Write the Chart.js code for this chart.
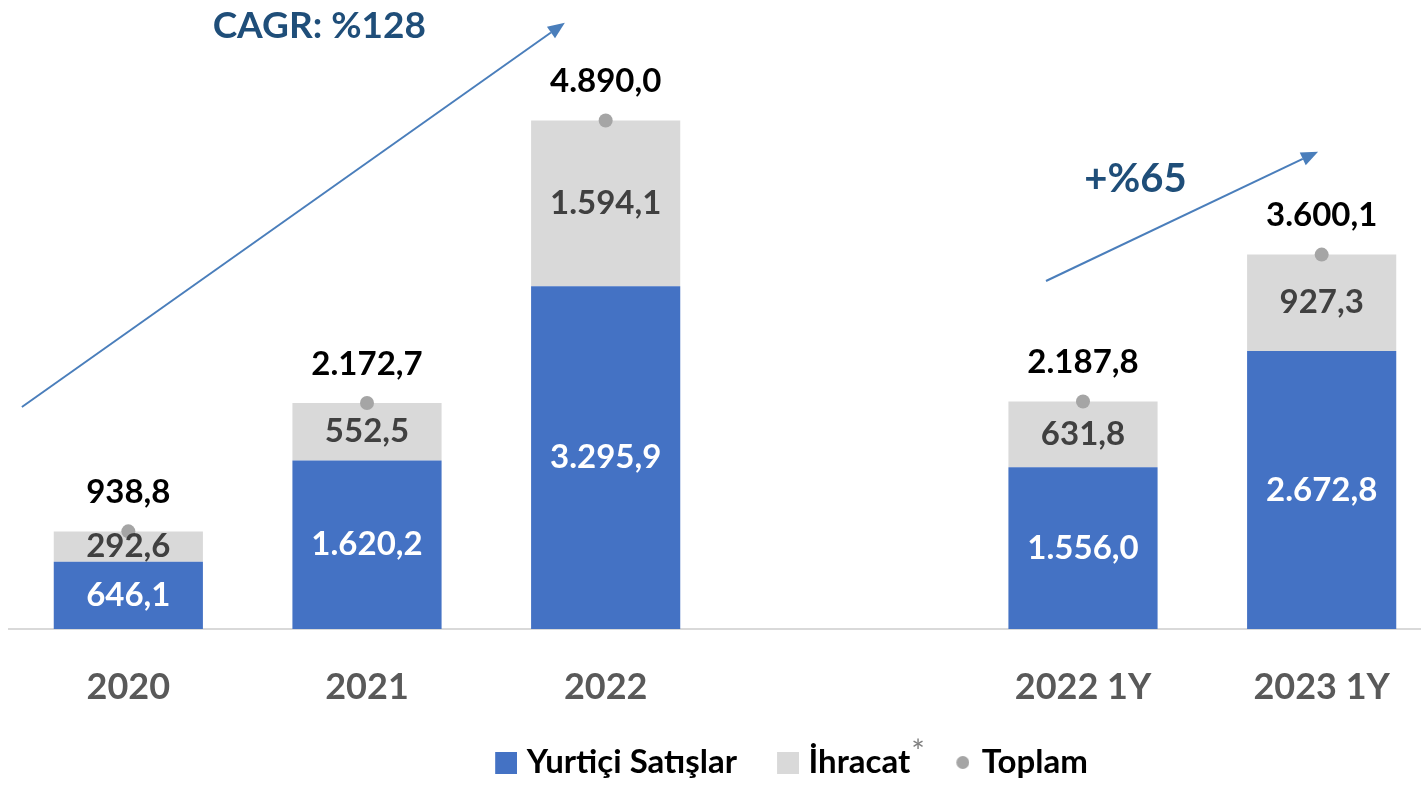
<!DOCTYPE html>
<html>
<head>
<meta charset="utf-8">
<script src="https://cdn.jsdelivr.net/npm/chart.js@4"></script>
<style>
  html, body { margin: 0; padding: 0; background: #fff; overflow: hidden; }
  #wrap { width: 1441px; height: 785px; }
</style>
</head>
<body>
<div id="wrap"><canvas id="myChart" width="1441" height="785"></canvas></div>
<script>
const categories = ['2020', '2021', '2022', '', '2022 1Y', '2023 1Y'];
const yurtici = [646.1, 1620.2, 3295.9, null, 1556.0, 2672.8];
const ihracat = [292.6, 552.5, 1594.1, null, 631.8, 927.3];
const toplam = [938.8, 2172.7, 4890.0, null, 2187.8, 3600.1];

const BLUE = '#4472C4';
const GREY = '#D9D9D9';
const DOT = '#A5A5A5';
const ARROW = '#4A7EBB';
const NOTE = '#1F4E79';

Chart.defaults.font.family = 'Lato';

// Turkish number format: 4.890,0
function fmt(v) {
  const parts = v.toFixed(1).split('.');
  const int = parts[0].replace(/\B(?=(\d{3})+(?!\d))/g, '.');
  return int + ',' + parts[1];
}

// legend icon, drawn at the right end of a wider transparent strip
function swatch(w, size, color, round) {
  const c = document.createElement('canvas');
  c.width = w; c.height = size;
  const g = c.getContext('2d');
  g.fillStyle = color;
  if (round) {
    g.beginPath();
    g.arc(w - size / 2, size / 2, size / 2, 0, Math.PI * 2);
    g.fill();
  } else {
    g.fillRect(w - size, 0, size, size);
  }
  return c;
}
const legendIcons = [swatch(62, 22, BLUE), swatch(62, 22, GREY), swatch(56, 13, DOT, true)];

const valueLabels = {
  id: 'valueLabels',
  afterDatasetsDraw(chart) {
    const ctx = chart.ctx;
    ctx.save();
    ctx.textAlign = 'center';
    ctx.textBaseline = 'middle';
    ctx.font = 'bold 33px Lato';
    const colors = ['#FFFFFF', '#404040'];
    [0, 1].forEach(di => {
      const meta = chart.getDatasetMeta(di);
      meta.data.forEach((bar, i) => {
        const v = chart.data.datasets[di].data[i];
        if (v == null) return;
        ctx.fillStyle = colors[di];
        ctx.fillText(fmt(v), bar.x, (bar.y + bar.base) / 2);
      });
    });
    const meta = chart.getDatasetMeta(2);
    meta.data.forEach((pt, i) => {
      const v = toplam[i];
      if (v == null) return;
      ctx.fillStyle = '#000000';
      ctx.fillText(fmt(v), pt.x, pt.y - 39);
    });
    ctx.restore();
  }
};

function arrow(ctx, x1, y1, x2, y2) {
  const a = Math.atan2(y2 - y1, x2 - x1);
  const len = 17, half = 7;
  const bx = x2 - len * Math.cos(a), by = y2 - len * Math.sin(a);
  ctx.beginPath();
  ctx.moveTo(x1, y1);
  ctx.lineTo(bx, by);
  ctx.stroke();
  ctx.beginPath();
  ctx.moveTo(x2, y2);
  ctx.lineTo(bx + half * Math.sin(a), by - half * Math.cos(a));
  ctx.lineTo(bx - half * Math.sin(a), by + half * Math.cos(a));
  ctx.closePath();
  ctx.fill();
}

const growthNotes = {
  id: 'growthNotes',
  afterLayout(chart) {
    // legend sits right of centre and a little lower in the original
    chart.legend.left += 50;
    chart.legend.right += 50;
    chart.legend.top += 4;
    chart.legend.bottom += 4;
  },
  afterDraw(chart) {
    const ctx = chart.ctx;
    const x = chart.scales.x, y = chart.scales.y;
    ctx.save();
    ctx.strokeStyle = ARROW;
    ctx.fillStyle = ARROW;
    ctx.lineWidth = 2;
    arrow(ctx, x.getPixelForValue(-0.446), y.getPixelForValue(2135),
               x.getPixelForValue(1.829), y.getPixelForValue(5830));
    arrow(ctx, x.getPixelForValue(3.845), y.getPixelForValue(3346),
               x.getPixelForValue(4.985), y.getPixelForValue(4590));
    ctx.fillStyle = NOTE;
    ctx.textAlign = 'center';
    ctx.textBaseline = 'middle';
    ctx.font = 'bold 37px Lato';
    ctx.fillText('CAGR: %128', x.getPixelForValue(0.80), y.getPixelForValue(5800));
    ctx.font = 'bold 40px Lato';
    ctx.fillText('+%65', x.getPixelForValue(4.22), y.getPixelForValue(4330));

    // superscript asterisk after "İhracat"
    const hb = chart.legend.legendHitBoxes[1];
    if (hb) {
      ctx.fillStyle = '#7F7F7F';
      ctx.font = '32px Lato';
      ctx.textAlign = 'left';
      ctx.textBaseline = 'top';
      ctx.fillText('*', hb.left + hb.width + 1, hb.top - 9);
    }
    ctx.restore();
  }
};

const ctx = document.getElementById('myChart');

const myChart = new Chart(ctx, {
  type: 'bar',
  data: {
    labels: categories,
    datasets: [{
      label: 'Yurtiçi Satışlar',
      data: yurtici,
      backgroundColor: BLUE,
      order: 1,
    }, {
      label: 'İhracat',
      data: ihracat,
      backgroundColor: GREY,
      order: 1,
    }, {
      type: 'line',
      label: 'Toplam',
      data: toplam,
      showLine: false,
      pointRadius: 7,
      pointHoverRadius: 7,
      pointBackgroundColor: DOT,
      pointBorderWidth: 0,
      borderColor: DOT,
      backgroundColor: DOT,
      order: 0,
    }],
  },
  options: {
    responsive: false,
    animation: false,
    layout: { autoPadding: false, padding: { left: 9, top: 5, right: 0, bottom: 0 } },
    datasets: {
      bar: { categoryPercentage: 1, barPercentage: 0.625 }
    },
    scales: {
      x: {
        stacked: true,
        grid: { display: false, drawTicks: false },
        border: { display: true, color: '#D9D9D9', width: 2 },
        ticks: {
          color: '#595959',
          font: { size: 36, weight: 'bold' },
          padding: 37,
          maxRotation: 0,
          autoSkip: false,
        },
        afterFit(scale) { scale.height = 106; },
      },
      y: {
        stacked: true,
        display: false,
        min: 0,
        max: 6000,
      },
    },
    plugins: {
      tooltip: { enabled: false },
      legend: {
        display: true,
        position: 'bottom',
        labels: {
          color: '#000000',
          font: { size: 33, weight: 'bold' },
          usePointStyle: true,
          pointStyleWidth: 48,
          padding: 7,
          sort: (a, b) => a.datasetIndex - b.datasetIndex,
          generateLabels(chart) {
            const items = Chart.defaults.plugins.legend.labels.generateLabels(chart);
            items.forEach(it => { it.pointStyle = legendIcons[it.datasetIndex]; });
            return items;
          },
        },
      },
    },
  },
  plugins: [valueLabels, growthNotes],
});
</script>
</body>
</html>
